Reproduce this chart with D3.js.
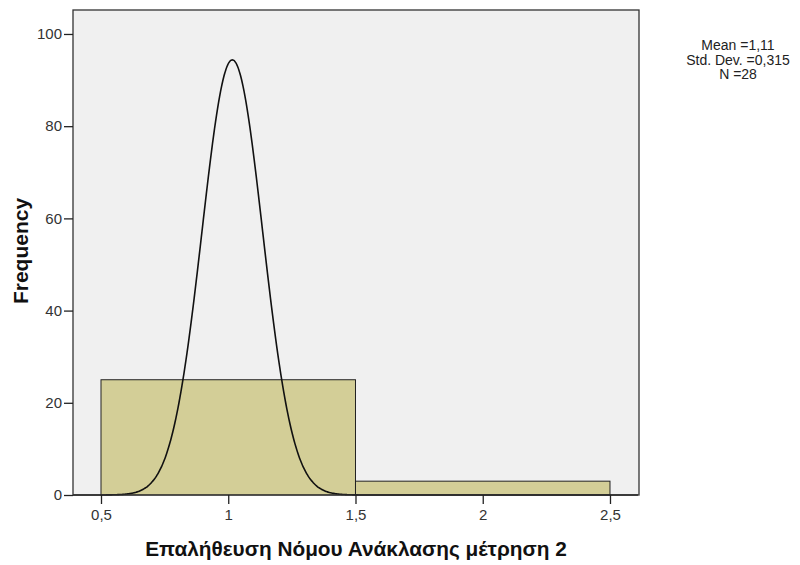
<!DOCTYPE html>
<html>
<head>
<meta charset="utf-8">
<script src="https://cdn.jsdelivr.net/npm/d3@7"></script>
<style>
  body { margin: 0; background: #fff; }
  text { font-family: "Liberation Sans", Arial, sans-serif; }
</style>
</head>
<body>
<svg id="chart" width="800" height="565"></svg>
<script>
// histogram bins (value edges) and counts
var binStart = [0.5, 1.5];
var binEnd = [1.5, 2.5];
var binCount = [25, 3];

var xTicks = [0.5, 1, 1.5, 2, 2.5];
var yTicks = [0, 20, 40, 60, 80, 100];

// fitted normal curve as drawn in the picture
var curveCenter = 1.016;
var curveSpread = 0.119;
var curvePeak = 94.4;

var statLines = ['Mean =1,11', 'Std. Dev. =0,315', 'N =28'];
var xTitle = 'Επαλήθευση Νόμου Ανάκλασης μέτρηση 2';
var yTitle = 'Frequency';

var plotLeft = 73, plotTop = 10, plotRight = 639, plotBottom = 495;

var x = d3.scaleLinear().domain([0.39, 2.614]).range([plotLeft, plotRight]);
var y = d3.scaleLinear().domain([0, 105.2]).range([plotBottom, plotTop]);

var svg = d3.select('#chart');

svg.append('rect')
  .attr('x', plotLeft)
  .attr('y', plotTop)
  .attr('width', plotRight - plotLeft)
  .attr('height', plotBottom - plotTop)
  .style('fill', '#f0f0f0');

var bins = binCount.map(function(c, i) {
  return { x0: binStart[i], x1: binEnd[i], count: c };
});

svg.selectAll('rect.bar')
  .data(bins)
  .enter()
  .append('rect')
  .attr('class', 'bar')
  .attr('x', function(d) { return x(d.x0); })
  .attr('y', function(d) { return y(d.count); })
  .attr('width', function(d) { return x(d.x1) - x(d.x0); })
  .attr('height', function(d) { return y(0) - y(d.count); })
  .style('fill', '#d3ce97')
  .style('stroke', '#222')
  .style('stroke-width', 1);

var curvePts = d3.range(0.39, 2.614, 0.004).map(function(v) {
  var z = (v - curveCenter) / curveSpread;
  return [v, curvePeak * Math.exp(-z * z / 2)];
});

svg.append('path')
  .datum(curvePts)
  .attr('d', d3.line()
    .x(function(d) { return x(d[0]); })
    .y(function(d) { return y(d[1]); })
    .curve(d3.curveBasis))
  .style('fill', 'none')
  .style('stroke', '#111')
  .style('stroke-width', 1.6);

svg.append('rect')
  .attr('x', plotLeft)
  .attr('y', plotTop)
  .attr('width', plotRight - plotLeft)
  .attr('height', plotBottom - plotTop)
  .style('fill', 'none')
  .style('stroke', '#333')
  .style('stroke-width', 1.3);

var fmt = function(d) { return String(d).replace('.', ','); };

var xAxis = svg.append('g')
  .attr('transform', 'translate(0,' + plotBottom + ')')
  .call(d3.axisBottom(x).tickValues(xTicks).tickFormat(fmt).tickSize(9).tickPadding(5));

var yAxis = svg.append('g')
  .attr('transform', 'translate(' + plotLeft + ',0)')
  .call(d3.axisLeft(y).tickValues(yTicks).tickSize(9).tickPadding(2));

[xAxis, yAxis].forEach(function(a) {
  a.select('.domain').remove();
  a.selectAll('line').style('stroke', '#222').style('stroke-width', 1.3);
  a.selectAll('text')
    .style('font-family', '"Liberation Sans", Arial, sans-serif')
    .style('font-size', '15px')
    .style('fill', '#333');
});

svg.append('text')
  .attr('transform', 'translate(28,251) rotate(-90)')
  .attr('text-anchor', 'middle')
  .style('font-size', '21px')
  .style('font-weight', 'bold')
  .style('fill', '#111')
  .text(yTitle);

svg.append('text')
  .attr('x', 356)
  .attr('y', 556)
  .attr('text-anchor', 'middle')
  .style('font-size', '20.8px')
  .style('font-weight', 'bold')
  .style('fill', '#111')
  .text(xTitle);

svg.selectAll('text.stat')
  .data(statLines)
  .enter()
  .append('text')
  .attr('class', 'stat')
  .attr('x', 738)
  .attr('y', function(d, i) { return 50 + i * 14.5; })
  .attr('text-anchor', 'middle')
  .style('font-size', '14px')
  .style('fill', '#222')
  .text(function(d) { return d; });
</script>
</body>
</html>
